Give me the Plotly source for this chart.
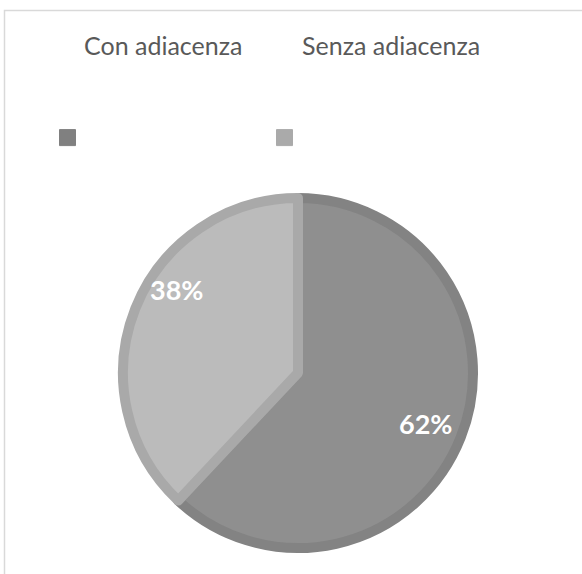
import math

import plotly.graph_objects as go

# data
categories = ["Con adiacenza", "Senza adiacenza"]
shares = [62, 38]
fill_colors = ["#8f8f8f", "#bbbbbb"]
edge_colors = ["#838383", "#a9a9a9"]
swatch_colors = ["#808080", "#aaaaaa"]

W, H = 582, 574
PIE_CX, PIE_CY, PIE_R = 298, 373, 180
# where the data labels sit, as a fraction of the radius, and angle nudge (deg)
label_place = [(0.76, 0), (0.82, 13)]


def px_x(v):
    return v / W


def px_y(v):
    return 1 - v / H


fig = go.Figure()
fig.add_trace(
    go.Pie(
        labels=categories,
        values=shares,
        sort=False,
        direction="clockwise",
        rotation=0,
        marker=dict(colors=fill_colors, line=dict(color=edge_colors, width=10)),
        textinfo="none",
        hoverinfo="label+percent",
        showlegend=False,
        domain=dict(
            x=[px_x(PIE_CX - PIE_R + 5), px_x(PIE_CX + PIE_R - 5)],
            y=[px_y(PIE_CY + PIE_R - 5), px_y(PIE_CY - PIE_R + 5)],
        ),
    )
)

# percentage labels, placed along each slice's middle angle
total = sum(shares)
start = 0.0
for v, (frac, nudge) in zip(shares, label_place):
    mid = start + v / total * 180.0
    start += v / total * 360.0
    ang = math.radians(90 - mid - nudge)
    fig.add_annotation(
        text=f"{v / total * 100:.0f}%",
        x=px_x(PIE_CX + frac * PIE_R * math.cos(ang)),
        y=px_y(PIE_CY - frac * PIE_R * math.sin(ang)),
        xref="paper",
        yref="paper",
        xanchor="center",
        yanchor="middle",
        showarrow=False,
        font=dict(family="Lato", size=27, color="white", weight="bold"),
    )

# legend swatches (empty traces so they only show in the legend)
for name, col in zip(categories, swatch_colors):
    fig.add_trace(
        go.Scatter(
            x=[None],
            y=[None],
            mode="markers",
            name=name,
            marker=dict(symbol="square", size=16, color=col, line=dict(color=col, width=1)),
        )
    )

# category names sit above the legend swatches, as in the source chart
for name, cx in zip(categories, [163, 391]):
    fig.add_annotation(
        text=name,
        x=px_x(cx),
        y=px_y(45),
        xref="paper",
        yref="paper",
        xanchor="center",
        yanchor="middle",
        showarrow=False,
        font=dict(family="Lato", size=25, color="#595959"),
    )

fig.add_shape(
    type="rect",
    xref="paper",
    yref="paper",
    x0=px_x(4.5),
    x1=1.2,
    y0=-0.2,
    y1=px_y(10.5),
    line=dict(color="#d9d9d9", width=1.5),
    fillcolor="rgba(0,0,0,0)",
)

fig.update_layout(
    width=W,
    height=H,
    margin=dict(l=0, r=0, t=0, b=0),
    paper_bgcolor="white",
    plot_bgcolor="white",
    xaxis=dict(visible=False),
    yaxis=dict(visible=False),
    showlegend=True,
    legend=dict(
        orientation="h",
        x=px_x(47.5),
        y=px_y(138),
        xanchor="left",
        yanchor="middle",
        entrywidth=172,
        entrywidthmode="pixels",
        font=dict(family="Lato", size=14, color="rgba(0,0,0,0)"),
        bgcolor="rgba(0,0,0,0)",
    ),
)

fig.write_html(
    "out.html",
    config={"displayModeBar": False},
    post_script="document.body.style.margin='0';",
)
